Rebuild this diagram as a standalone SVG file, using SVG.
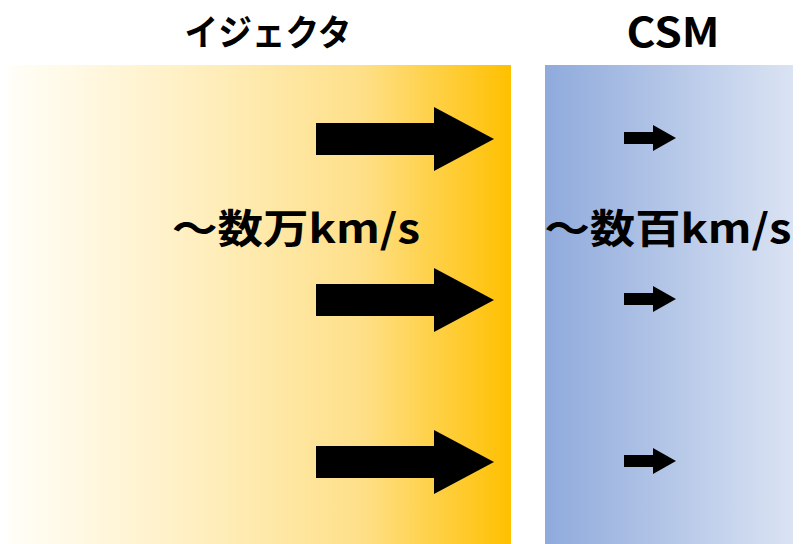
<svg xmlns="http://www.w3.org/2000/svg" width="809" height="544" viewBox="0 0 809 544">
<defs>
<linearGradient id="gy" x1="0" y1="0" x2="1" y2="0">
<stop offset="0" stop-color="#FFFEF8"/>
<stop offset="0.35" stop-color="#FFF0C4"/>
<stop offset="0.7" stop-color="#FEE08A"/>
<stop offset="1" stop-color="#FFC000"/>
</linearGradient>
<linearGradient id="gb" x1="0" y1="0" x2="1" y2="0">
<stop offset="0" stop-color="#8FAADC"/>
<stop offset="1" stop-color="#DAE3F3"/>
</linearGradient>
<style>
.t{font-family:"Noto Sans CJK JP","Noto Sans",sans-serif;font-weight:bold;fill:#000;text-anchor:middle}
.a{fill:#000}
</style>
</defs>
<rect id="bg" width="809" height="544" fill="#fff"/>
<g id="ejecta">
<rect x="8" y="65" width="503" height="479" fill="url(#gy)"/>
<text class="t" x="268" y="46" font-size="36" textLength="167" lengthAdjust="spacingAndGlyphs">イジェクタ</text>
<text class="t" x="296" y="243" font-size="40" textLength="248" lengthAdjust="spacingAndGlyphs">～数万km/s</text>
</g>
<g id="csm">
<rect x="545" y="65" width="248" height="479" fill="url(#gb)"/>
<text class="t" x="673" y="47" font-size="40" textLength="93" lengthAdjust="spacingAndGlyphs">CSM</text>
<text class="t" x="668" y="243" font-size="40" textLength="247" lengthAdjust="spacingAndGlyphs">～数百km/s</text>
</g>
<g id="connectors">
<polygon class="a" points="316,123 434,123 434,107 494,139 434,171 434,155 316,155"/>
<polygon class="a" points="316,284 434,284 434,268 494,300 434,332 434,316 316,316"/>
<polygon class="a" points="316,446 434,446 434,430 494,462 434,494 434,478 316,478"/>
<polygon class="a" points="624,132 653,132 653,125 676,138 653,151 653,144 624,144"/>
<polygon class="a" points="624,293 653,293 653,286 676,299 653,312 653,305 624,305"/>
<polygon class="a" points="624,455 653,455 653,448 676,461 653,474 653,467 624,467"/>
</g>
</svg>
